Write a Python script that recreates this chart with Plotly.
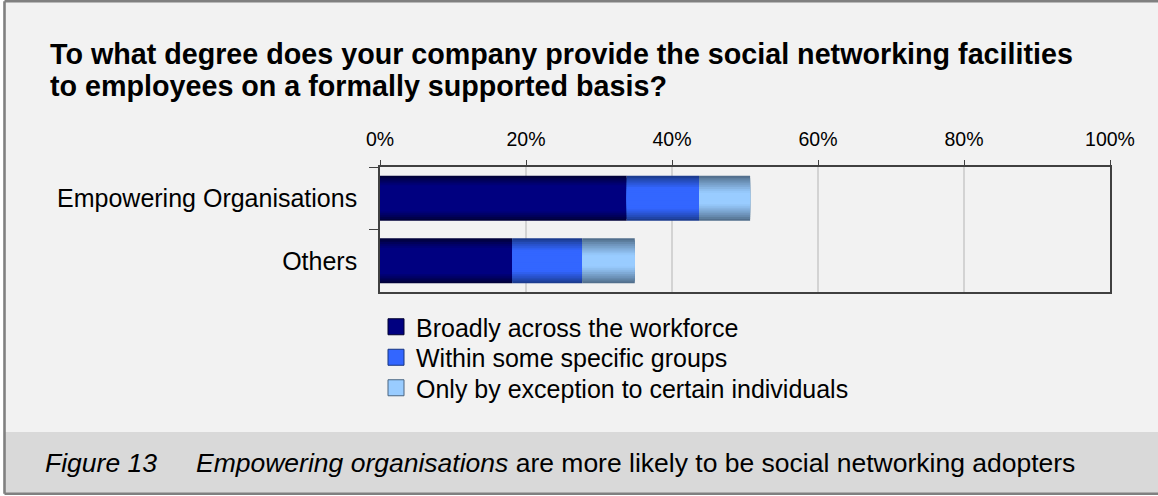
import plotly.graph_objects as go

# ---- data ----
categories = ["Empowering Organisations", "Others"]
series_names = [
    "Broadly across the workforce",
    "Within some specific groups",
    "Only by exception to certain individuals",
]
broadly = [33.8, 18.1]
specific_groups = [9.9, 9.6]
by_exception = [7.0, 7.2]
x_tick_vals = [0, 20, 40, 60, 80, 100]
x_tick_text = ["0%", "20%", "40%", "60%", "80%", "100%"]

title_lines = [
    "To what degree does your company provide the social networking facilities",
    "to employees on a formally supported basis?",
]
caption_label = "Figure 13"
caption_text = "<i>Empowering organisations</i> are more likely to be social networking adopters"

# ---- style ----
W, H = 1158, 496
M_L, M_R, M_T, M_B = 380, 48, 167, 204
PW, PH = W - M_L - M_R, H - M_T - M_B
FONT = "Arial, Liberation Sans, sans-serif"
BAR_W = 0.72
N_LAYERS = 12
# (edge colour, centre colour, fraction of half-height used by the shading ramp)
styles = [
    ("#00002E", "#000080", 0.45),
    ("#17357F", "#3366FF", 0.55),
    ("#4A6580", "#99CCFF", 0.75),
]
legend_rows_px = [327, 357.5, 388]


def px_x(px):
    return (px - M_L) / PW


def px_y(py):
    return (H - M_B - py) / PH


def hex_rgb(h):
    h = h.lstrip("#")
    return tuple(int(h[i:i + 2], 16) for i in (0, 2, 4))


def lerp(c0, c1, t):
    a, b = hex_rgb(c0), hex_rgb(c1)
    return "rgb({},{},{})".format(*[round(a[i] + (b[i] - a[i]) * t) for i in range(3)])


fig = go.Figure()

values = [broadly, specific_groups, by_exception]
bases = [[0.0] * len(categories)]
for v in values[:-1]:
    bases.append([b + x for b, x in zip(bases[-1], v)])

# stacked segments, each shaded by overlaying progressively thinner bars
for name, vals, base, (edge, centre, ramp) in zip(series_names, values, bases, styles):
    for k in range(N_LAYERS):
        t = min(1.0, (k + 0.5) / (N_LAYERS * ramp)) ** 0.8
        fig.add_trace(go.Bar(
            y=categories, x=vals, base=base, orientation="h",
            width=BAR_W * (1 - k / N_LAYERS),
            marker=dict(color=lerp(edge, centre, t), line=dict(width=0)),
            name=name, legendgroup=name, showlegend=False,
            hoverinfo="skip" if k else "x+name",
        ))

# one legend per row so the row spacing can be set independently of font size
legend_ids = ["legend", "legend2", "legend3"]
for name, (edge, centre, ramp), lid in zip(series_names, styles, legend_ids):
    fig.add_trace(go.Scatter(
        x=[None], y=[None], mode="markers", name=name, legendgroup=name,
        legend=lid,
        marker=dict(symbol="square", size=16, color=centre,
                    line=dict(width=1, color=edge)),
    ))

legend_style = dict(xanchor="left", yanchor="middle", bgcolor="rgba(0,0,0,0)",
                    font=dict(family=FONT, size=25, color="#000000"),
                    itemsizing="trace")
legends = {}
for lid, row in zip(legend_ids, legend_rows_px):
    legends[lid] = dict(x=px_x(376), y=px_y(row), **legend_style)

FRAME_L, FRAME_T, FRAME_B = 4.5, 1.3, 493.8
shapes = [
    # light background
    dict(type="rect", xref="paper", yref="paper",
         x0=px_x(FRAME_L), x1=px_x(1175), y0=px_y(FRAME_T), y1=px_y(FRAME_B),
         fillcolor="#F2F2F2", line=dict(width=0), layer="below"),
    # caption band
    dict(type="rect", xref="paper", yref="paper",
         x0=px_x(FRAME_L), x1=px_x(1175), y0=px_y(432), y1=px_y(FRAME_B),
         fillcolor="#D9D9D9", line=dict(width=0), layer="below"),
]
for (x0, y0, x1, y1) in [
    (FRAME_L, FRAME_T, 1175, FRAME_T),
    (FRAME_L, FRAME_T, FRAME_L, FRAME_B),
    (FRAME_L, FRAME_B, 1175, FRAME_B),
]:
    shapes.append(dict(type="line", xref="paper", yref="paper",
                       x0=px_x(x0), x1=px_x(x1), y0=px_y(y0), y1=px_y(y1),
                       line=dict(color="#808080", width=2.6), layer="below"))

annotations = []
for line, top in zip(title_lines, [36, 68]):
    annotations.append(dict(
        text="<b>" + line + "</b>", xref="paper", yref="paper",
        x=px_x(48), y=px_y(top), xanchor="left", yanchor="top", align="left",
        showarrow=False, font=dict(family=FONT, size=28.7, color="#000000")))
annotations += [
    dict(text="<i>" + caption_label + "</i>", xref="paper", yref="paper",
         x=px_x(43), y=px_y(462.5), xanchor="left", yanchor="middle",
         showarrow=False, font=dict(family=FONT, size=26.5, color="#000000")),
    dict(text=caption_text, xref="paper", yref="paper",
         x=px_x(194), y=px_y(462.5), xanchor="left", yanchor="middle",
         showarrow=False, font=dict(family=FONT, size=26.5, color="#000000")),
]

fig.update_layout(
    width=W, height=H,
    margin=dict(l=M_L, r=M_R, t=M_T, b=M_B, autoexpand=False),
    paper_bgcolor="#FFFFFF", plot_bgcolor="rgba(0,0,0,0)",
    barmode="overlay",
    font=dict(family=FONT, color="#000000"),
    showlegend=True,
    shapes=shapes, annotations=annotations,
    **legends,
)

fig.update_xaxes(
    side="top", range=[0, 100], tickvals=x_tick_vals, ticktext=x_tick_text,
    showgrid=True, gridcolor="#D3D3D3", gridwidth=1.5, zeroline=False,
    showline=True, linecolor="#404040", linewidth=1.6, mirror=True,
    ticks="outside", ticklen=5, tickcolor="#404040", tickwidth=1.4,
    ticklabelstandoff=6,
    tickfont=dict(family=FONT, size=19.5, color="#000000"),
    fixedrange=True,
)
fig.update_yaxes(
    type="category", categoryorder="array", categoryarray=categories,
    autorange="reversed",
    showline=True, linecolor="#404040", linewidth=1.6, mirror=True,
    ticks="outside", tickson="boundaries", ticklen=9, tickcolor="#404040",
    tickwidth=1.4, showgrid=False, ticklabelstandoff=16,
    tickfont=dict(family=FONT, size=25, color="#000000"),
    fixedrange=True,
)

fig.write_html("out.html")
